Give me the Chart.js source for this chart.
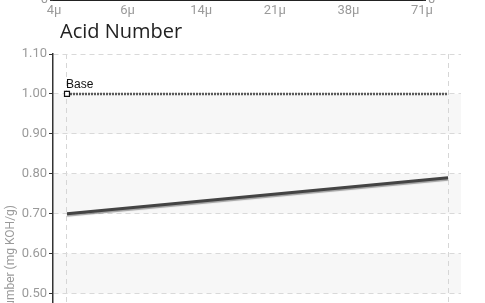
<!DOCTYPE html>
<html>
<head>
<meta charset="utf-8">
<script src="https://cdn.jsdelivr.net/npm/chart.js@4/dist/chart.umd.min.js"></script>
<style>
  html, body { margin: 0; padding: 0; background: #fff; }
  #wrap { position: relative; width: 485px; height: 303px; overflow: hidden; background: #fff; }
  #topBox { position: absolute; left: 0; top: -80px; width: 485px; height: 100px; }
  #mainBox { position: absolute; left: 0; top: 0; width: 485px; height: 523px; }
  #title { position: absolute; left: 60px; top: 21px; font-family: 'Open Sans', sans-serif; font-size: 20px; line-height: 19px; color: #222; white-space: nowrap; }
</style>
</head>
<body>
<div id="wrap">
  <div id="topBox"><canvas id="topChart"></canvas></div>
  <div id="mainBox"><canvas id="mainChart"></canvas></div>
  <div id="title">Acid Number</div>
</div>
<script>
// ---- data ----
const topCategories = ['4\u00b5', '6\u00b5', '14\u00b5', '21\u00b5', '38\u00b5', '71\u00b5'];
const topYTicks = [0];
const xSteps = [0, 1];
const acidValues = [0.70, 0.79];
const baseValues = [1.00, 1.00];
const baseLabel = 'Base';
const yTickValues = [0.00, 0.10, 0.20, 0.30, 0.40, 0.50, 0.60, 0.70, 0.80, 0.90, 1.00, 1.10];
const yTitle = 'Acid Number (mg KOH/g)';

const tickFont = { family: 'Roboto, sans-serif', size: 13 };
const tickGray = '#9a9a9a';

// ---- top (previous chart's x-axis, cut off) ----
new Chart(document.getElementById('topChart'), {
  type: 'line',
  data: { labels: topCategories, datasets: [{ data: topCategories.map(() => null) }] },
  options: {
    responsive: true, maintainAspectRatio: false, animation: false,
    layout: { padding: 0 },
    plugins: { legend: { display: false }, tooltip: { enabled: false } },
    scales: {
      x: {
        type: 'category', offset: false,
        grid: { display: false, drawTicks: false },
        border: { display: true, color: '#222', width: 2 },
        ticks: { color: tickGray, font: tickFont, padding: 3, maxRotation: 0, autoSkip: false },
        afterFit: s => { s.height = 20; }
      },
      y: {
        position: 'left', min: 0, max: 10,
        afterBuildTicks: s => { s.ticks = topYTicks.map(v => ({ value: v })); },
        grid: { drawOnChartArea: false, tickLength: 4, tickColor: '#333' },
        border: { display: false },
        ticks: { color: tickGray, font: tickFont, padding: 2 },
        afterFit: s => { s.width = 54; }
      },
      y2: {
        position: 'right', min: 0, max: 10,
        afterBuildTicks: s => { s.ticks = topYTicks.map(v => ({ value: v })); },
        grid: { drawOnChartArea: false, tickLength: 4, tickColor: '#333' },
        border: { display: false },
        ticks: { color: tickGray, font: tickFont, padding: 2 },
        afterFit: s => { s.width = 63; }
      }
    }
  }
});

// ---- main chart ----
const bandsPlugin = {
  id: 'bands',
  beforeDraw(chart) {
    const { ctx, chartArea: a, scales: { y } } = chart;
    ctx.save();
    ctx.fillStyle = '#f7f7f7';
    for (let i = 0; i + 1 < yTickValues.length; i++) {
      const lo = yTickValues[i], hi = yTickValues[i + 1];
      if ((Math.round(hi * 10)) % 2 !== 0) continue;
      const yTop = y.getPixelForValue(hi), yBot = y.getPixelForValue(lo);
      ctx.fillRect(a.left, yTop, a.right - a.left, yBot - yTop);
    }
    ctx.restore();
  }
};

const shadowPlugin = {
  id: 'lineShadow',
  beforeDatasetDraw(chart, args) {
    if (args.index !== 0) return;
    const ctx = chart.ctx;
    ctx.save();
    ctx.shadowColor = 'rgba(0,0,0,0.35)';
    ctx.shadowOffsetY = 1.5;
    ctx.shadowBlur = 1;
  },
  afterDatasetDraw(chart, args) {
    if (args.index !== 0) return;
    chart.ctx.restore();
  }
};

const baseLabelPlugin = {
  id: 'baseLabel',
  afterDatasetsDraw(chart) {
    const meta = chart.getDatasetMeta(1);
    const p = meta.data[0];
    if (!p) return;
    const ctx = chart.ctx;
    ctx.save();
    ctx.font = '12px "Liberation Sans", Arial, sans-serif';
    ctx.fillStyle = '#111';
    ctx.textAlign = 'left';
    ctx.textBaseline = 'alphabetic';
    ctx.fillText(baseLabel, p.x - 1, p.y - 6);
    ctx.restore();
  }
};

new Chart(document.getElementById('mainChart'), {
  type: 'line',
  data: {
    datasets: [
      {
        label: 'Acid Number',
        data: xSteps.map((x, i) => ({ x, y: acidValues[i] })),
        borderColor: '#444', borderWidth: 3,
        pointRadius: 0, tension: 0, fill: false
      },
      {
        label: baseLabel,
        data: xSteps.map((x, i) => ({ x, y: baseValues[i] })),
        borderColor: '#5a5a5a', borderWidth: 2.5, borderDash: [2, 1],
        pointStyle: 'rect',
        pointRadius: [3.5, 0],
        pointBorderColor: '#111', pointBackgroundColor: '#fff', pointBorderWidth: 1.2,
        tension: 0, fill: false
      }
    ]
  },
  options: {
    responsive: true, maintainAspectRatio: false, animation: false,
    layout: { padding: { top: 54, right: 24, left: 0, bottom: 0 } },
    plugins: { legend: { display: false }, tooltip: { enabled: false } },
    scales: {
      x: {
        type: 'linear', min: -0.0367, max: 1.034,
        afterBuildTicks: s => { s.ticks = xSteps.map(v => ({ value: v })); },
        grid: { color: '#d6d6d6', lineWidth: 1, drawTicks: false },
        border: { display: false, dash: [5, 4] },
        ticks: { display: false },
        afterFit: s => { s.height = 30; }
      },
      y: {
        min: 0, max: 1.1,
        afterBuildTicks: s => { s.ticks = yTickValues.map(v => ({ value: v })); },
        grid: { color: '#d9d9d9', lineWidth: 1, tickLength: 4, tickColor: '#333', tickWidth: 1 },
        border: { display: true, color: '#333', width: 1.5, dash: [5, 4] },
        ticks: { color: tickGray, font: tickFont, padding: 2, callback: v => v.toFixed(2) },
        title: { display: true, text: yTitle, color: tickGray, font: { family: 'Roboto, sans-serif', size: 12 }, padding: 4 },
        afterFit: s => { s.width = 53; }
      }
    }
  },
  plugins: [bandsPlugin, shadowPlugin, baseLabelPlugin]
});
</script>
</body>
</html>
